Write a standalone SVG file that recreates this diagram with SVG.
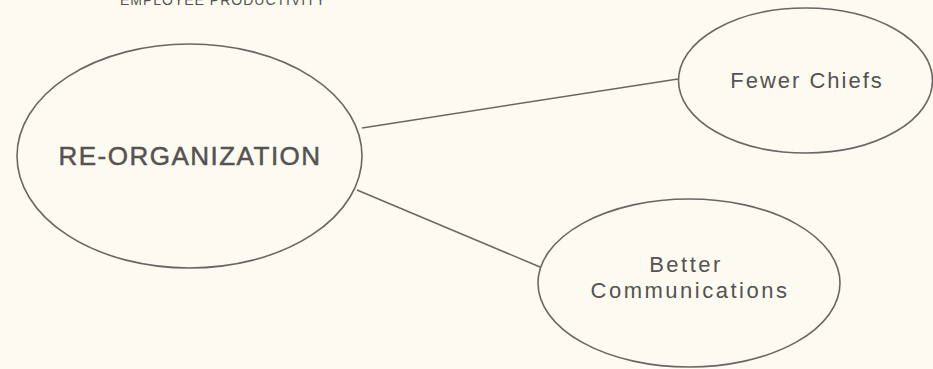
<svg xmlns="http://www.w3.org/2000/svg" width="933" height="369" viewBox="0 0 933 369">
<style>
.bg{fill:#fdfbf1}
.node{fill:none;stroke:#6a6664;stroke-width:1.6}
.edge{stroke:#6a6664;stroke-width:1.5;fill:none}
.t{font-family:"Liberation Sans",Arial,sans-serif;fill:#555250;text-anchor:middle}
</style>
<rect class="bg" x="0" y="0" width="933" height="369"/>
<text class="t" x="223" y="5" font-size="14" letter-spacing="1">EMPLOYEE PRODUCTIVITY</text>
<g id="connectors">
<line class="edge" x1="362" y1="128" x2="678" y2="79"/>
<line class="edge" x1="357" y1="190" x2="540" y2="267"/>
</g>
<g id="reorganization">
<ellipse class="node" cx="189.5" cy="156" rx="172.5" ry="112"/>
<text class="t" x="190" y="165" font-size="26" letter-spacing="1.5" stroke="#555250" stroke-width="0.5">RE-ORGANIZATION</text>
</g>
<g id="fewer-chiefs">
<ellipse class="node" cx="805.5" cy="80.5" rx="127" ry="72.5"/>
<text class="t" x="807" y="88" font-size="22" letter-spacing="2">Fewer Chiefs</text>
</g>
<g id="better-communications">
<ellipse class="node" cx="689" cy="283" rx="151" ry="84"/>
<text class="t" x="686" y="272" font-size="22" letter-spacing="2.5">Better</text>
<text class="t" x="690" y="298" font-size="22" letter-spacing="2.5">Communications</text>
</g>
</svg>
